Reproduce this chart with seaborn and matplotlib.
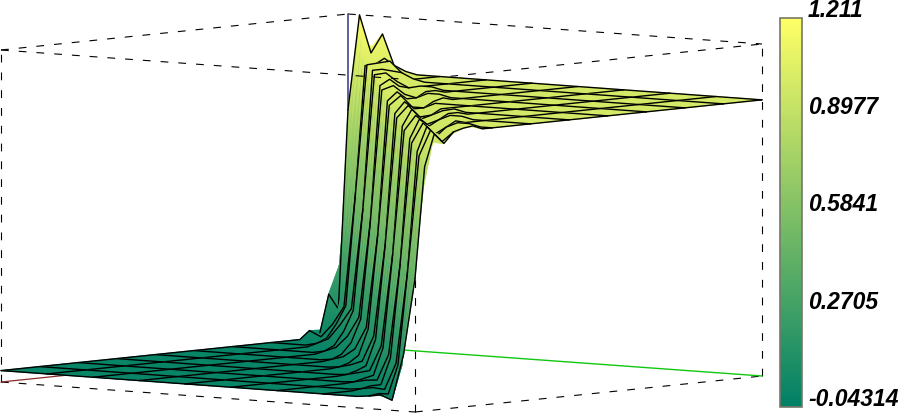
import matplotlib
matplotlib.use('Agg')
import matplotlib.pyplot as plt
import seaborn as sns
import numpy as np

# colour range of the surface
z_min = -0.04314
z_max = 1.211
cbar_ticks = [1.211, 0.8977, 0.5841, 0.2705, -0.04314]
cbar_labels = ['1.211', '0.8977', '0.5841', '0.2705', '-0.04314']

# plateaus either side of the step
z_low = 0.0
z_high = 1.0

# offsets from the step diagonal that the table below covers
band_offsets = [-4, -3, -2, -1, 0, 1, 2, 3, 4, 5, 6]

# surface height across the step, one row per grid row from the back corner to the front corner
wall_band = [
    [0.000, 0.000, 0.000, 0.000, 0.85, 1.211, 1.07, 1.145, 1.03, 1.01, 1.00],
    [0.000, 0.000, 0.000, 0.100, 0.70, 1.12, 1.05, 1.06, 1.02, 1.01, 1.00],
    [0.000, 0.000, 0.160, 0.110, 0.62, 1.06, 1.04, 1.05, 1.03, 1.01, 1.00],
    [0.000, 0.005, 0.080, 0.120, 0.58, 1.04, 1.05, 1.06, 1.02, 1.00, 1.01],
    [0.030, 0.010, 0.060, 0.130, 0.56, 1.05, 1.06, 1.07, 1.03, 1.01, 1.00],
    [0.015, 0.020, 0.070, 0.140, 0.55, 1.03, 1.04, 1.04, 1.02, 1.00, 1.01],
    [0.010, 0.020, 0.075, 0.140, 0.54, 1.04, 1.05, 1.03, 1.01, 1.01, 1.00],
    [0.010, 0.025, 0.080, 0.150, 0.53, 1.05, 1.06, 1.03, 1.02, 1.00, 1.00],
    [0.010, 0.030, 0.085, 0.150, 0.53, 1.04, 1.05, 1.02, 1.00, 1.01, 1.01],
    [0.010, 0.030, 0.080, 0.150, 0.52, 1.03, 1.04, 1.01, 1.00, 1.01, 1.00],
    [0.008, 0.028, 0.075, 0.150, 0.52, 1.02, 1.04, 1.01, 0.99, 1.00, 1.01],
    [0.008, 0.025, 0.072, 0.150, 0.51, 1.02, 1.03, 1.00, 0.99, 1.01, 1.00],
    [0.008, 0.025, 0.070, 0.145, 0.51, 1.01, 1.03, 1.00, 0.99, 1.01, 1.01],
    [0.006, 0.022, 0.065, 0.145, 0.50, 1.00, 1.03, 0.99, 0.99, 1.00, 1.00],
    [0.006, 0.020, 0.060, 0.140, 0.50, 1.00, 1.02, 0.99, 0.98, 1.00, 1.01],
    [0.006, 0.020, 0.055, 0.140, 0.50, 0.99, 1.02, 0.99, 0.98, 1.00, 1.01],
    [0.005, 0.018, 0.050, 0.135, 0.49, 0.98, 1.02, 0.98, 0.98, 1.00, 1.00],
    [0.005, 0.018, 0.045, 0.135, 0.49, 0.98, 1.02, 0.98, 0.98, 1.01, 1.01],
    [0.005, 0.016, 0.040, 0.130, 0.49, 0.97, 1.01, 0.98, 0.98, 1.01, 1.00],
    [0.004, 0.015, 0.035, 0.130, 0.48, 0.97, 1.01, 0.98, 0.98, 1.00, 1.01],
    [0.004, 0.015, 0.032, 0.130, 0.48, 0.96, 1.01, 0.97, 0.98, 1.00, 1.01],
    [0.004, 0.014, 0.030, 0.125, 0.48, 0.96, 1.01, 0.97, 0.98, 1.01, 1.00],
    [0.003, 0.014, 0.028, 0.125, 0.48, 0.95, 1.01, 0.97, 0.98, 1.01, 1.01],
    [0.003, 0.013, 0.026, 0.120, 0.47, 0.95, 1.00, 0.97, 0.99, 1.01, 1.00],
    [0.003, 0.013, 0.024, 0.120, 0.47, 0.94, 1.00, 0.97, 0.99, 1.01, 1.01],
    [0.003, 0.012, 0.022, 0.120, 0.47, 0.94, 1.00, 0.97, 0.99, 1.00, 1.01],
    [0.003, 0.012, 0.020, 0.115, 0.47, 0.93, 1.00, 0.97, 0.99, 1.01, 1.00],
    [0.003, 0.012, 0.018, 0.115, 0.47, 0.93, 1.00, 0.96, 0.99, 1.01, 1.01],
    [0.003, 0.012, 0.016, 0.115, 0.46, 0.92, 1.00, 0.96, 0.99, 1.01, 1.01],
    [0.004, 0.012, 0.014, 0.110, 0.46, 0.92, 1.00, 0.96, 0.99, 1.01, 1.01],
    [0.004, 0.012, 0.012, 0.110, 0.46, 0.91, 1.00, 0.96, 0.99, 1.01, 1.015],
    [0.004, 0.012, 0.010, 0.110, 0.46, 0.91, 1.00, 0.96, 0.99, 1.01, 1.00],
    [0.005, 0.012, 0.008, 0.110, 0.46, 0.90, 1.00, 0.96, 1.00, 1.00, 1.00],
    [0.005, 0.012, 0.006, 0.110, 0.46, 0.90, 1.00, 0.96, 1.00, 1.00, 1.00],
    [0.005, 0.010, 0.005, 0.110, 0.47, 0.90, 1.00, 1.00, 1.00, 1.00, 1.00],
    [0.005, 0.010, 0.000, 0.120, 0.45, 0.88, 1.00, 1.00, 1.00, 1.00, 1.00],
    [0.005, 0.012, -0.005, 0.170, 0.46, 1.00, 1.00, 1.00, 1.00, 1.00, 1.00],
]

mesh_step = 4

sns.set_theme(style='white')
plt.rcParams['font.family'] = ['Liberation Sans', 'DejaVu Sans']
cmap = sns.color_palette('summer', as_cmap=True)
norm = plt.Normalize(z_min, z_max)


def project(a, b, z):
    """Parallel projection of the unit box (z scaled to the colour range) onto figure pixels."""
    c = (np.asarray(z) - z_min) / (z_max - z_min)
    return 1 + 414 * np.asarray(a) + 347 * np.asarray(b), 383 + 30 * np.asarray(a) - 36 * np.asarray(b) - 332 * c


def box_edge(ax, start, end, **kwargs):
    a = [start[0], end[0]]
    b = [start[1], end[1]]
    z = [start[2], end[2]]
    x, y = project(a, b, z)
    ax.plot(x, y, **kwargs)


n = len(wall_band)
grid = np.where(np.arange(n)[None, :] < np.arange(n)[:, None], z_low, z_high)
for r, row in enumerate(wall_band):
    for k, value in zip(band_offsets, row):
        if 0 <= r + k < n:
            grid[r, r + k] = value

aa, rr = np.meshgrid(np.arange(n) / (n - 1), np.arange(n) / (n - 1))
bb = 1 - rr
px, py = project(aa, bb, grid)

fig = plt.figure(figsize=(9.02, 4.14), dpi=100)
ax = fig.add_axes([0, 0, 1, 1])

dash = dict(color='black', lw=0.8, linestyle=(0, (7, 9)), zorder=1)
lo, hi = z_min, z_max
for start, end in [((0, 0, lo), (1, 0, lo)), ((1, 0, lo), (1, 1, lo)),
                   ((0, 0, lo), (0, 0, hi)), ((1, 0, lo), (1, 0, hi)), ((1, 1, lo), (1, 1, hi)),
                   ((0, 0, hi), (0, 1, hi)), ((0, 1, hi), (1, 1, hi)), ((1, 0, hi), (1, 1, hi))]:
    box_edge(ax, start, end, **dash)

# the coloured axes meet at the far corner
box_edge(ax, (0, 1, lo), (0, 0, lo), color='#8a2a2a', lw=0.9, zorder=1)
box_edge(ax, (0, 1, lo), (1, 1, lo), color='#10c810', lw=1.0, zorder=1)
box_edge(ax, (0, 1, lo), (0, 1, hi), color='#44448c', lw=1.2, zorder=1)

# back strips first so the nearer ones hide them
line = dict(color='black', lw=1.0, solid_capstyle='round')
for m, r0 in enumerate(range(0, n - 1, mesh_step)):
    r1 = r0 + mesh_step + 1
    zo = 3 + 2 * m
    ax.pcolormesh(px[r0:r1], py[r0:r1], grid[r0:r1], shading='gouraud', cmap=cmap, norm=norm, zorder=zo)
    for j in range(0, n, mesh_step):
        ax.plot(px[r0:r1, j], py[r0:r1, j], zorder=zo + 1, **line)
    ax.plot(px[r0], py[r0], zorder=zo + 1, **line)
ax.plot(px[-1], py[-1], zorder=zo + 1, **line)

# this dashed top edge shows through the wall
box_edge(ax, (0, 0, hi), (0.96, 0, hi), color='black', lw=0.8, linestyle=(0, (7, 9)), zorder=100)

ax.set_xlim(0, 902)
ax.set_ylim(414, 0)
ax.axis('off')

cax = fig.add_axes([779.5 / 902, 1 - 408 / 414, 22 / 902, 389 / 414])
sm = plt.cm.ScalarMappable(norm=norm, cmap=cmap)
cbar = fig.colorbar(sm, cax=cax)
cbar.set_ticks([])
cbar.outline.set_edgecolor('#77776a')
cbar.outline.set_linewidth(1.2)
for value, label in zip(cbar_ticks, cbar_labels):
    cax.annotate(label, xy=(1, value), xycoords=cax.get_yaxis_transform(),
                 xytext=(6.5, 2), textcoords='offset pixels', va='baseline', ha='left',
                 fontsize=16.5, fontweight='bold', fontstyle='italic', color='black',
                 annotation_clip=False)

fig.savefig('out.png', dpi=100)
plt.close(fig)
